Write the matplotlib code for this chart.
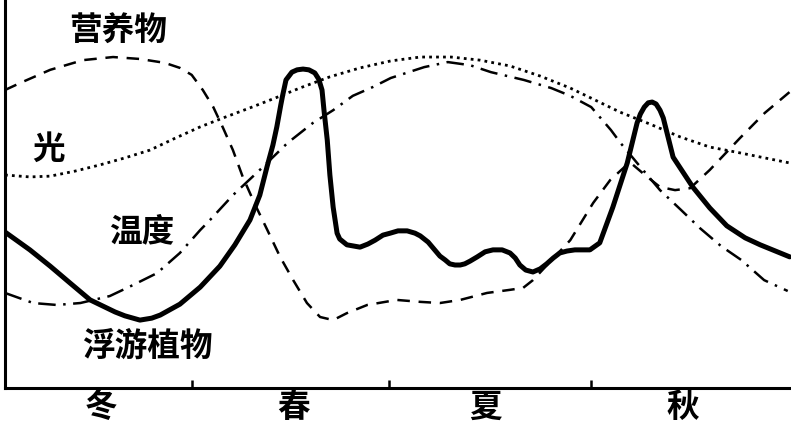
import matplotlib
matplotlib.use("Agg")
import matplotlib.pyplot as plt

plt.rcParams['font.family'] = ['Noto Sans CJK SC', 'DejaVu Sans']

# x: months from start of winter, y: relative level (0-100)
light_x = [0, 0.38, 0.69, 1.07, 1.45, 1.83, 2.21, 2.60, 2.98, 3.36, 3.74, 4.12, 4.50, 4.96, 5.42,
           5.89, 6.34, 6.81, 7.25, 7.71, 8.17, 8.63, 8.95, 9.39, 9.85, 10.31, 10.76, 11.22, 11.60, 11.98]
light_y = [54.9, 54.4, 54.6, 55.9, 57.5, 59.3, 61.3, 64.4, 67.3, 69.8, 72.2, 74.7, 77.3, 80.2, 82.5,
           84.3, 85.3, 85.3, 84.5, 83.0, 80.4, 77.3, 74.7, 71.1, 68.0, 64.7, 62.1, 60.6, 59.3, 58.0]

nutr_x = [0, 0.23, 0.69, 1.19, 1.65, 2.06, 2.44, 2.67, 2.85, 3.02, 3.18, 3.33, 3.48, 3.63, 3.82,
          4.02, 4.20, 4.40, 4.61, 4.81, 5.01, 5.22, 5.53, 5.98, 6.34, 6.64, 6.95, 7.36, 7.71, 7.91,
          8.06, 8.32, 8.63, 8.98, 9.24, 9.54, 9.77, 10.0, 10.23, 10.46, 10.76, 11.22, 11.60, 11.98]
nutr_y = [76.8, 78.6, 82.0, 84.5, 85.3, 84.8, 83.8, 82.5, 80.7, 76.8, 72.4, 67.0, 61.3, 54.4, 47.2,
          40.2, 33.8, 27.8, 21.9, 18.3, 17.5, 19.3, 21.4, 22.7, 22.2, 21.9, 22.7, 24.5, 25.3, 25.8,
          27.8, 32.5, 38.1, 47.7, 53.6, 58.2, 54.9, 51.8, 51.0, 51.5, 56.2, 64.4, 70.9, 76.3]

temp_x = [0, 0.43, 0.79, 1.15, 1.60, 1.95, 2.32, 2.67, 2.98, 3.13, 3.48, 3.89, 4.31, 4.70, 5.01,
          5.31, 5.62, 5.89, 6.40, 6.76, 7.10, 7.42, 7.92, 8.34, 8.63, 8.95, 9.25, 9.40, 9.65, 10.0,
          10.32, 10.61, 10.93, 11.24, 11.59, 11.95]
temp_y = [24.5, 21.9, 21.4, 21.9, 23.7, 26.5, 29.6, 34.8, 40.7, 43.3, 49.7, 56.2, 63.1, 68.3, 71.6,
          75.3, 77.6, 79.9, 82.7, 84.0, 83.2, 81.4, 79.4, 77.3, 75.3, 72.4, 66.5, 63.1, 58.0, 51.0,
          45.9, 41.2, 36.6, 33.0, 27.8, 25.0]

phyto_x = [0, 0.38, 0.69, 0.99, 1.30, 1.68, 1.83, 2.06, 2.24, 2.37, 2.67, 2.98, 3.28, 3.51, 3.74,
           3.89, 4.00, 4.09, 4.15, 4.21, 4.24, 4.29, 4.38, 4.46, 4.55, 4.64, 4.73, 4.79, 4.84, 4.87,
           4.92, 4.96, 5.01, 5.07, 5.11, 5.22,
           5.42, 5.54, 5.65, 5.77, 5.88, 6.00, 6.14, 6.26, 6.34, 6.46, 6.56, 6.64, 6.72, 6.79, 6.87,
           6.95, 7.02, 7.10, 7.21, 7.33, 7.45, 7.59, 7.71, 7.79, 7.86, 7.95, 8.06, 8.17, 8.27, 8.37,
           8.47, 8.58, 8.70, 8.93, 9.08, 9.28, 9.50,
           9.65, 9.70, 9.76, 9.82, 9.88, 9.94, 10.0, 10.05, 10.20, 10.50, 10.76, 11.02,
           11.30, 11.53, 11.98]
phyto_y = [40.2, 35.6, 31.4, 27.1, 22.7, 19.6, 18.6, 17.5, 18.0, 18.8, 21.6, 26.0, 31.4, 36.9, 43.3,
           49.7, 57.0, 62.6, 67.3, 72.9, 75.5, 79.4, 81.4, 82.0, 82.2, 82.0, 81.2, 79.6, 76.8, 71.6,
           63.9, 54.9, 46.6, 39.9, 38.4, 36.9,
           36.3, 37.1, 38.1, 39.4, 39.9, 40.5, 40.5, 39.9, 39.2, 37.6, 35.6, 34.0, 33.0, 32.0, 31.7,
           31.7, 32.0, 32.7, 33.8, 35.1, 35.6, 35.6, 34.8, 33.5, 31.7, 30.4, 29.9, 30.7, 32.0, 33.5,
           34.8, 35.3, 35.6, 35.6, 37.4, 46.6, 58.0,
           68.3, 70.6, 72.4, 73.5, 73.7, 73.2, 71.6, 69.6, 59.5, 51.8, 46.4, 41.8,
           38.7, 36.9, 33.8]

season_ticks = [2.85, 5.86, 8.95]
season_pos = [1.47, 4.41, 7.33, 10.35]
season_labels = ['冬', '春', '夏', '秋']

fig = plt.figure(figsize=(7.91, 4.26), dpi=100)
ax = fig.add_axes([5 / 791, 38 / 426, 786 / 791, 388 / 426])

ax.plot(light_x, light_y, color='black', lw=2.0, linestyle=(0, (1, 1.5)))
ax.plot(nutr_x, nutr_y, color='black', lw=1.8, linestyle=(0, (5, 3.5)))
ax.plot(temp_x, temp_y, color='black', lw=1.8, linestyle=(0, (7, 3, 1, 3)))
ax.plot(phyto_x, phyto_y, color='black', lw=3.6, solid_capstyle='round', solid_joinstyle='round')

txt = dict(fontsize=23.5, fontweight='bold', ha='center', va='center')
ax.text(1.72, 92.3, '营养物', **txt)
ax.text(0.67, 61.6, '光', **txt)
ax.text(2.09, 40.2, '温度', **txt)
ax.text(2.17, 10.8, '浮游植物', **txt)

ax.set_xlim(0, 12)
ax.set_ylim(0, 100)
for s in ['top', 'right']:
    ax.spines[s].set_visible(False)
ax.spines['left'].set_linewidth(2.2)
ax.spines['bottom'].set_linewidth(2.2)

ax.set_yticks([])
ax.set_xticks(season_ticks)
ax.set_xticklabels([])
ax.tick_params(axis='x', which='major', direction='in', length=6, width=1.8)
ax.set_xticks(season_pos, minor=True)
ax.set_xticklabels(season_labels, minor=True, fontsize=23.5, fontweight='bold')
ax.tick_params(axis='x', which='minor', length=0, pad=2)

fig.savefig('out.png', dpi=100)
